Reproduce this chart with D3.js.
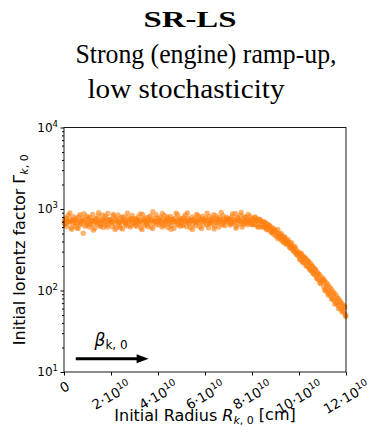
<!DOCTYPE html>
<html>
<head>
<meta charset="utf-8">
<script src="https://cdn.jsdelivr.net/npm/d3@7"></script>
<style>
  body { margin: 0; background: #fff; }
  svg { display: block; }
  .tick text { font-family: "DejaVu Sans", sans-serif; }
</style>
</head>
<body>
<div id="chart"></div>
<script>
// radius in units of 10^10 cm, gamma = initial lorentz factor
var radius = [
  0.02,0.05,0.09,0.11,0.16,0.19,0.23,0.27,0.30,0.34,0.38,0.41,0.45,0.49,0.52,0.57,0.60,0.63,0.68,0.71,0.75,0.79,0.82,0.86,0.90,0.93,0.97,
  1.01,1.04,1.08,1.12,1.15,1.19,1.22,1.26,1.31,1.34,1.37,1.41,1.45,1.48,1.53,1.56,1.59,1.64,1.67,1.71,1.74,1.78,1.83,1.86,1.89,1.93,1.97,
  2.00,2.04,2.07,2.11,2.16,2.19,2.23,2.26,2.30,2.35,2.38,2.42,2.45,2.49,2.52,2.56,2.61,2.64,2.67,2.71,2.75,2.78,2.82,2.87,2.90,2.94,2.97,
  3.01,3.05,3.08,3.12,3.15,3.20,3.23,3.27,3.30,3.34,3.38,3.41,3.46,3.49,3.53,3.56,3.60,3.63,3.68,3.71,3.75,3.78,3.82,3.86,3.89,3.93,3.98,
  4.02,4.05,4.09,4.12,4.17,4.20,4.24,4.27,4.31,4.35,4.39,4.42,4.46,4.50,4.53,4.57,4.60,4.65,4.68,4.72,4.75,4.79,4.83,4.87,4.90,4.94,4.97,
  5.01,5.04,5.08,5.13,5.16,5.20,5.23,5.27,5.31,5.34,5.38,5.42,5.45,5.49,5.52,5.57,5.60,5.64,5.67,5.71,5.75,5.78,5.82,5.86,5.90,5.93,5.97,
  6.00,6.04,6.08,6.11,6.15,6.18,6.23,6.26,6.30,6.33,6.37,6.41,6.44,6.48,6.52,6.55,6.59,6.63,6.66,6.70,6.74,6.77,6.81,6.85,6.88,6.92,6.96,
  7.00,7.03,7.07,7.10,7.14,7.18,7.22,7.25,7.29,7.32,7.36,7.40,7.43,7.47,7.51,7.54,7.58,7.62,7.65,7.69,7.72,7.76,7.80,7.84,7.87,7.91,7.95,7.98,
  8.02,8.05,8.09,8.13,8.16,8.20,8.23,8.27,8.31,8.34,8.38,8.42,8.45,8.49,8.52,8.56,8.60,8.63,8.67,8.71,8.74,8.78,8.82,8.85,8.89,8.93,8.96,
  9.00,9.04,9.07,9.11,9.15,9.18,9.22,9.26,9.29,9.33,9.37,9.40,9.44,9.47,9.51,9.55,9.58,9.62,9.66,9.69,9.73,9.77,9.80,9.84,9.88,9.91,9.95,9.98,
  10.02,10.05,10.09,10.12,10.16,10.20,10.23,10.27,10.30,10.34,10.38,10.41,10.45,10.48,10.52,10.56,10.59,10.63,10.66,10.70,10.74,10.77,10.81,10.84,10.88,10.92,10.95,10.99,
  11.02,11.06,11.09,11.13,11.16,11.20,11.24,11.27,11.31,11.34,11.38,11.42,11.45,11.49,11.52,11.56,11.60,11.63,11.67,11.70,11.74,11.78,11.81,11.85,11.88,11.92,11.95,11.98,
  0.03,0.10,0.18,0.25,0.33,0.40,0.47,0.55,0.62,0.70,0.77,0.85,0.95,
  1.03,1.10,1.18,1.25,1.33,1.40,1.47,1.55,1.62,1.70,1.77,1.85,1.95,
  2.02,2.09,2.17,2.25,2.32,2.40,2.47,2.55,2.62,2.70,2.77,2.85,2.92,
  3.03,3.10,3.18,3.25,3.32,3.40,3.47,3.55,3.62,3.70,3.77,3.85,3.92,
  4.03,4.10,4.18,4.25,4.33,4.40,4.47,4.55,4.62,4.70,4.77,4.85,4.92,
  5.03,5.10,5.18,5.25,5.32,5.40,5.47,5.55,5.62,5.70,5.77,5.85,5.92,
  6.02,6.09,6.17,6.24,6.32,6.39,6.47,6.54,6.62,6.69,6.77,6.84,6.92,
  7.02,7.09,7.17,7.24,7.32,7.39,7.47,7.54,7.62,7.69,7.77,7.84,7.92,
  8.03,8.11,8.18,8.25,8.33,8.40,8.47,8.55,8.62,8.70,8.77,8.85,8.92,
  9.03,9.10,9.17,9.24,9.32,9.39,9.46,9.54,9.61,9.68,9.76,9.83,9.90,
  10.03,10.10,10.17,10.24,10.31,10.39,10.46,10.53,10.61,10.68,10.75,10.83,10.90,
  11.03,11.10,11.17,11.24,11.31,11.39,11.46,11.53,11.61,11.68,11.75,11.83,11.92,11.99
];
var gamma = [
  720,655,780,610,700,840,690,745,590,710,665,805,730,620,760,685,575,715,850,640,700,770,505,735,615,690,815,
  670,745,600,790,705,640,860,725,580,695,760,650,815,700,615,735,680,845,595,720,770,630,705,880,655,740,690,
  735,610,700,820,655,760,590,710,845,680,625,775,700,570,730,805,660,715,620,790,695,740,600,755,835,670,710,
  690,760,615,725,800,650,705,585,740,860,670,715,630,780,700,610,745,690,820,600,730,925,665,710,775,640,700,
  725,640,790,680,600,755,710,835,650,700,765,595,730,690,810,625,745,700,580,770,715,660,850,695,740,615,725,
  680,760,625,725,845,700,610,770,690,735,590,715,800,655,740,700,625,860,720,670,780,605,745,695,815,640,730,
  705,775,640,730,590,810,690,745,660,725,850,615,700,765,680,735,600,790,710,655,740,830,690,625,760,705,745,
  690,760,635,720,800,665,745,700,880,615,730,775,650,715,840,690,600,755,705,660,790,720,640,745,690,810,650,700,
  760,650,720,800,640,705,755,610,690,740,600,700,640,700,600,670,580,655,605,550,625,560,515,590,525,485,550,
  540,455,510,430,500,445,480,410,465,395,450,380,430,390,400,365,385,335,370,325,350,310,340,290,320,280,300,265,
  290,245,275,230,265,220,255,245,205,238,195,228,185,215,175,200,165,190,157,180,148,168,138,160,130,150,123,137,
  142,110,133,102,125,96,118,92,110,86,104,80,97,76,92,71,86,68,80,64,75,60,70,57,66,53,62,50,
  655,760,700,895,565,735,690,590,800,660,720,875,640,
  780,640,715,550,755,690,900,625,730,670,810,600,745,
  690,855,560,740,680,590,795,705,650,890,715,630,760,
  635,740,690,870,560,760,710,655,795,730,575,705,850,
  760,690,880,625,720,800,660,565,745,705,890,640,770,
  640,790,705,895,660,725,560,760,690,835,715,575,750,
  725,890,660,705,775,570,820,690,740,910,640,715,785,
  745,660,870,700,580,780,725,905,650,805,690,860,735,
  640,780,720,600,745,690,600,690,560,640,610,520,575,
  480,560,450,500,410,455,370,420,340,385,305,345,275,
  240,285,220,255,200,228,180,205,160,182,140,158,122,
  130,100,115,88,100,78,90,68,80,60,72,55,64,48
];
var xTicks = [0, 2, 4, 6, 8, 10, 12];
var yTicks = [1e1, 1e2, 1e3, 1e4];

var W = 370, H = 439;
var margin = { top: 127.5, right: 24, bottom: 67, left: 64 };
var width = W - margin.left - margin.right;
var height = H - margin.top - margin.bottom;
var orange = "#ff7f0e";

var svg = d3.select("#chart").append("svg")
    .attr("width", W)
    .attr("height", H);

// title
var title = svg.append("g").attr("font-family", "'Liberation Serif', serif").attr("fill", "#000").attr("text-anchor", "middle");
title.append("text").attr("x", 190).attr("y", 27).attr("font-size", 24).attr("font-weight", "bold")
    .attr("textLength", 93).attr("lengthAdjust", "spacingAndGlyphs").text("SR-LS");
title.append("text").attr("x", 206).attr("y", 63).attr("font-size", 27)
    .attr("textLength", 261).attr("lengthAdjust", "spacingAndGlyphs").text("Strong (engine) ramp-up,");
title.append("text").attr("x", 186).attr("y", 98).attr("font-size", 27)
    .attr("textLength", 197).attr("lengthAdjust", "spacingAndGlyphs").text("low stochasticity");

var g = svg.append("g").attr("transform", "translate(" + margin.left + "," + margin.top + ")");

var x = d3.scaleLinear().domain([0, 12]).range([0, width]);
var y = d3.scaleLog().domain([10, 1e4]).range([height, 0]);

// points
g.append("g").selectAll("circle")
    .data(radius)
    .enter().append("circle")
    .attr("cx", function (d) { return x(d); })
    .attr("cy", function (d, i) { return y(gamma[i]); })
    .attr("r", 2.7)
    .attr("fill", orange)
    .attr("fill-opacity", 0.6);

// frame
g.append("rect").attr("width", width).attr("height", height)
    .attr("fill", "none").attr("stroke", "#000").attr("stroke-width", 0.9);

// y axis
var minor = [];
[10, 100, 1000].forEach(function (dec) {
    for (var k = 2; k <= 9; k++) minor.push(dec * k);
});
var yAxis = g.append("g").attr("class", "axis axis--y")
    .call(d3.axisLeft(y).tickValues(yTicks).tickSize(3.5).tickPadding(3).tickFormat(""));
yAxis.select(".domain").remove();
g.append("g").call(d3.axisLeft(y).tickValues(minor).tickSize(2).tickFormat(""))
    .select(".domain").remove();
yAxis.selectAll(".tick").each(function (d) {
    var t = d3.select(this).append("text")
        .attr("x", -6).attr("dy", "0.32em")
        .attr("text-anchor", "end").attr("fill", "#000").attr("font-size", 12);
    t.append("tspan").text("10");
    t.append("tspan").attr("font-size", 8.5).attr("dy", "-0.6em").text(Math.round(Math.log10(d)));
});

// x axis
var xAxis = g.append("g").attr("class", "axis axis--x")
    .attr("transform", "translate(0," + height + ")")
    .call(d3.axisBottom(x).tickValues(xTicks).tickSize(3.5).tickFormat(""));
xAxis.select(".domain").remove();
xAxis.selectAll(".tick").each(function (d) {
    var t = d3.select(this).append("text")
        .attr("text-anchor", "middle").attr("fill", "#000").attr("font-size", 13.5);
    if (d === 0) {
        t.append("tspan").text("0");
    } else {
        t.append("tspan").text(d + "\u00b710");
        t.append("tspan").attr("font-size", 9.5).attr("dy", "-0.6em").text("10");
    }
    var w = t.node().getComputedTextLength();
    var rot = 30 * Math.PI / 180;
    var bh = w * Math.sin(rot) + 13.5 * Math.cos(rot);
    var cy = 7 + bh / 2;
    t.attr("transform", "translate(0," + cy + ") rotate(-30)")
        .attr("dy", "0.35em");
});

// axis labels
var labFont = "'DejaVu Sans', sans-serif";
var xl = svg.append("text").attr("x", margin.left + width / 2).attr("y", 421)
    .attr("text-anchor", "middle").attr("font-family", labFont).attr("font-size", 16).attr("fill", "#000");
xl.append("tspan").text("Initial Radius ");
xl.append("tspan").attr("font-style", "italic").text("R");
xl.append("tspan").attr("font-size", 11).attr("dy", "0.3em").attr("font-style", "italic").text("k");
xl.append("tspan").attr("font-size", 11).text(", 0");
xl.append("tspan").attr("dy", "-0.3em").attr("dx", 5).text("[cm]");

var yl = svg.append("text").attr("transform", "translate(25," + (margin.top + height / 2) + ") rotate(-90)")
    .attr("text-anchor", "middle").attr("font-family", labFont).attr("font-size", 16).attr("fill", "#000");
yl.append("tspan").text("Initial lorentz factor \u0393");
yl.append("tspan").attr("font-size", 11).attr("dy", "0.3em").attr("font-style", "italic").text("k");
yl.append("tspan").attr("font-size", 11).text(", 0");

// beta arrow
var ay = y(14.5);
var ax0 = x(0.5), ax1 = x(3.6);
g.append("line").attr("x1", ax0).attr("x2", ax1 - 9).attr("y1", ay).attr("y2", ay)
    .attr("stroke", "#000").attr("stroke-width", 3);
g.append("path")
    .attr("d", "M" + (ax1 - 12) + "," + (ay - 4.5) + "L" + ax1 + "," + ay + "L" + (ax1 - 12) + "," + (ay + 4.5) + "Z")
    .attr("fill", "#000");
var bl = g.append("text").attr("x", x(1.3)).attr("y", ay - 13)
    .attr("font-family", labFont).attr("font-size", 17).attr("fill", "#000");
bl.append("tspan").attr("font-style", "italic").text("\u03b2");
bl.append("tspan").attr("font-size", 12).attr("dy", "0.3em").text("k, 0");
</script>
</body>
</html>
